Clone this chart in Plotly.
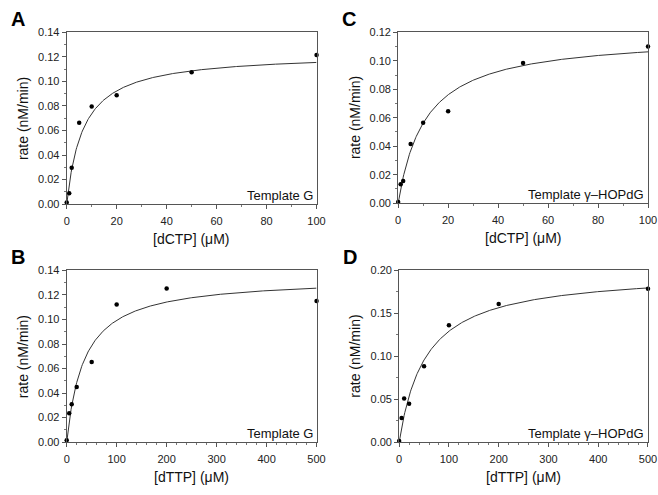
import numpy as np
import plotly.graph_objects as go

# ---- data ----
dctp_conc = [0, 1, 2, 5, 10, 20, 50, 100]
dttp_conc = [0, 5, 10, 20, 50, 100, 200, 500]

rate_A = [0.0013, 0.0088, 0.0297, 0.0663, 0.0795, 0.0888, 0.1074, 0.1215]   # dCTP, Template G
rate_C = [0.0007, 0.0133, 0.0155, 0.0416, 0.0565, 0.0645, 0.0985, 0.1100]   # dCTP, Template γ-HOPdG
rate_B = [0.0016, 0.0236, 0.0310, 0.0450, 0.0654, 0.1122, 0.1252, 0.1151]   # dTTP, Template G
rate_D = [0.0015, 0.0280, 0.0509, 0.0448, 0.0884, 0.1362, 0.1609, 0.1787]   # dTTP, Template γ-HOPdG

# Michaelis-Menten fit parameters (Vmax, Km)
fit_A = (0.1232, 6.7)
fit_C = (0.1180, 11.0)
fit_B = (0.1344, 35.3)
fit_D = (0.1990, 54.0)

panel_letters = ["A", "C", "B", "D"]
template_labels = ["Template G", "Template γ–HOPdG", "Template G", "Template γ–HOPdG"]
x_titles = ["[dCTP] (μM)", "[dCTP] (μM)", "[dTTP] (μM)", "[dTTP] (μM)"]
y_title = "rate (nM/min)"

W, H = 658, 495
ML, MR, MT, MB = 0, 10, 0, 0
PW, PH = W - ML - MR, H - MT - MB
FONT = "Arial, Liberation Sans, Helvetica, sans-serif"

panels = [
    dict(px=(64, 315), py=(27, 203), x=dctp_conc, y=rate_A, fit=fit_A, xr=[0, 100], yr=[0, 0.14], ydt=0.02, ymn=0.01, xdt=20, xmn=10),
    dict(px=(397, 648), py=(27, 202), x=dctp_conc, y=rate_C, fit=fit_C, xr=[0, 100], yr=[0, 0.12], ydt=0.02, ymn=0.01, xdt=20, xmn=10),
    dict(px=(64, 315), py=(271, 447), x=dttp_conc, y=rate_B, fit=fit_B, xr=[0, 500], yr=[0, 0.14], ydt=0.02, ymn=0.01, xdt=100, xmn=20),
    dict(px=(398, 648), py=(271, 447), x=dttp_conc, y=rate_D, fit=fit_D, xr=[0, 500], yr=[0, 0.20], ydt=0.05, ymn=0.025, xdt=100, xmn=20),
]


def fx(px):
    return (px - ML) / PW


def fy(py):
    return 1 - (py - MT) / PH


fig = go.Figure()
annotations = []
layout_axes = {}

for i, p in enumerate(panels):
    n = i + 1
    xa = "x" if n == 1 else f"x{n}"
    ya = "y" if n == 1 else f"y{n}"
    xkey = "xaxis" if n == 1 else f"xaxis{n}"
    ykey = "yaxis" if n == 1 else f"yaxis{n}"

    x0, x1 = fx(p["px"][0]), fx(p["px"][1])
    y1, y0 = fy(p["py"][0]), fy(p["py"][1])

    vmax, km = p["fit"]
    xs = np.linspace(p["xr"][0], p["xr"][1], 400)
    ys = vmax * xs / (km + xs)

    fig.add_trace(go.Scatter(x=xs, y=ys, mode="lines", xaxis=xa, yaxis=ya,
                             line=dict(color="#333333", width=1), showlegend=False,
                             hoverinfo="skip"))
    fig.add_trace(go.Scatter(x=p["x"], y=p["y"], mode="markers", xaxis=xa, yaxis=ya,
                             marker=dict(color="black", size=4.5), showlegend=False,
                             cliponaxis=False))

    common = dict(showgrid=False, zeroline=False, showline=True, linecolor="#555555",
                  linewidth=1, mirror=True, ticks="outside", ticklen=4, tickwidth=1,
                  tickcolor="#555555", tickfont=dict(family=FONT, size=11, color="#222222"))
    layout_axes[xkey] = dict(common, domain=[x0, x1], anchor=ya, range=p["xr"],
                             tick0=0, dtick=p["xdt"], ticklabelstandoff=3,
                             minor=dict(ticks="outside", ticklen=2, dtick=p["xmn"], tick0=0,
                                        tickcolor="#777777"))
    layout_axes[ykey] = dict(common, domain=[y0, y1], anchor=xa, range=p["yr"],
                             tick0=0, dtick=p["ydt"], tickformat=".2f",
                             minor=dict(ticks="outside", ticklen=2, dtick=p["ymn"], tick0=0,
                                        tickcolor="#777777"))

    # panel letter
    annotations.append(dict(x=fx(p["px"][0] - 58), y=fy(p["py"][0] - 14), xref="paper", yref="paper",
                            text=f"<b>{panel_letters[i]}</b>", showarrow=False,
                            xanchor="left", yanchor="middle",
                            font=dict(family=FONT, size=20, color="black")))
    # x title
    annotations.append(dict(x=fx((p["px"][0] + p["px"][1]) / 2), y=fy(p["py"][1] + 36),
                            xref="paper", yref="paper", text=x_titles[i], showarrow=False,
                            xanchor="center", yanchor="middle",
                            font=dict(family=FONT, size=14, color="#111111")))
    # y title
    annotations.append(dict(x=fx(p["px"][0] - 44), y=(y0 + y1) / 2, xref="paper", yref="paper",
                            text=y_title, showarrow=False, textangle=-90,
                            xanchor="center", yanchor="middle",
                            font=dict(family=FONT, size=14, color="#111111")))
    # template label
    annotations.append(dict(x=fx(p["px"][1] - 2), y=fy(p["py"][1] - 9), xref="paper", yref="paper",
                            text=template_labels[i], showarrow=False,
                            xanchor="right", yanchor="middle",
                            font=dict(family=FONT, size=13, color="#111111")))

fig.update_layout(width=W, height=H, margin=dict(l=ML, r=MR, t=MT, b=MB),
                  paper_bgcolor="white", plot_bgcolor="white",
                  annotations=annotations, **layout_axes)

fig.write_html("out.html", config={"displayModeBar": False},
               post_script="document.body.style.margin='0';document.body.style.padding='0';")
